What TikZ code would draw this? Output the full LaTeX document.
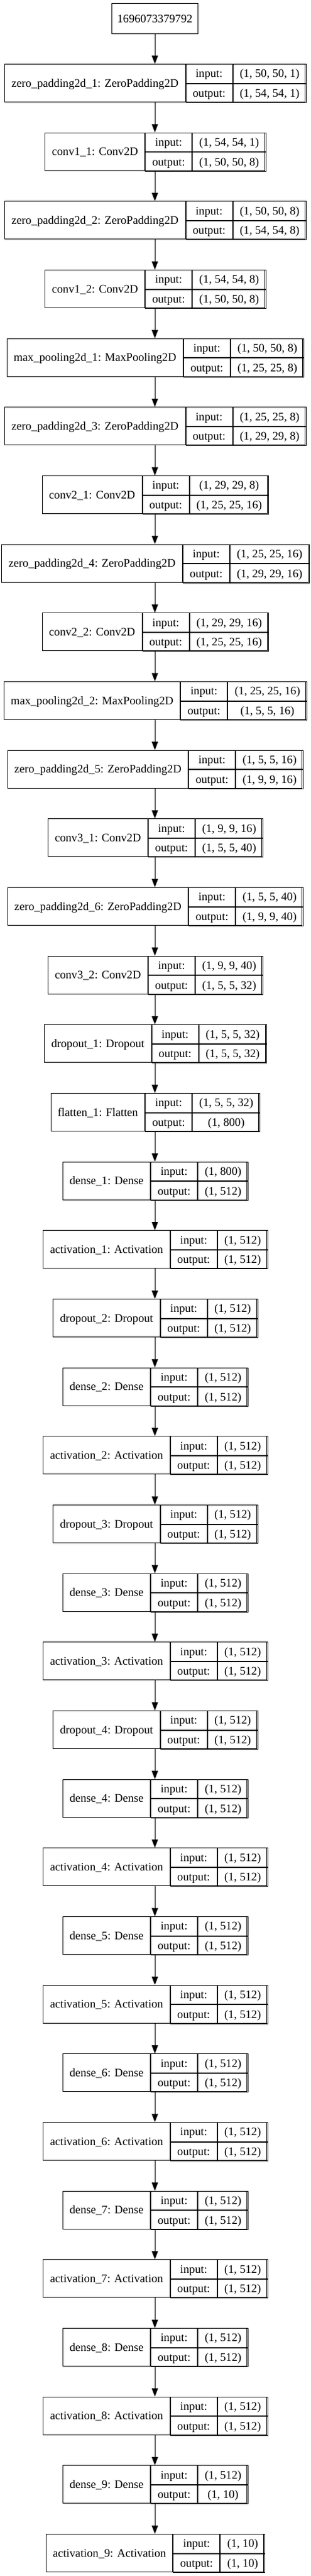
\documentclass[tikz,border=0pt]{standalone}
\usepackage{fontspec}
\setmainfont{Liberation Serif}
\usetikzlibrary{arrows.meta}

\newlength\wname \newlength\wio \newlength\wval \newlength\wtmp \newlength\wtot
\newcommand\fsz{\fontsize{14pt}{16pt}\selectfont}
\newcommand\padw{16.5pt}

\tikzset{
  field/.style={draw=black, line width=0.75pt, inner sep=0pt, text height=9.2pt, text depth=0pt, font=\fsz, align=center},
  edge/.style={draw=black, line width=0.75pt, -{Triangle[length=10pt,width=7.5pt]}}
}

% measurement pass (outside the picture): #1 id, #2 rank, #3 label, #4 input, #5 output, #6 previous id
\newcommand\measureL[6]{%
  \settowidth\wname{\fsz #3}\addtolength\wname{\padw}%
  \settowidth\wio{\fsz output:}\addtolength\wio{\padw}%
  \settowidth\wval{\fsz #4}\settowidth\wtmp{\fsz #5}%
  \ifdim\wtmp>\wval \wval=\wtmp\fi
  \addtolength\wval{\padw}%
  \wtot=\wname \addtolength\wtot{\wio}\addtolength\wtot{\wval}%
  \expandafter\xdef\csname wn@#1\endcsname{\the\wname}%
  \expandafter\xdef\csname wi@#1\endcsname{\the\wio}%
  \expandafter\xdef\csname wv@#1\endcsname{\the\wval}%
  \expandafter\xdef\csname wt@#1\endcsname{\the\wtot}%
}

% drawing pass
\newcommand\mklayer[6]{%
  \edef\curwn{\csname wn@#1\endcsname}%
  \edef\curwi{\csname wi@#1\endcsname}%
  \edef\curwv{\csname wv@#1\endcsname}%
  \edef\curwt{\csname wt@#1\endcsname}%
  \pgfmathsetmacro\ytop{-(103+(#2-1)*110.667)*0.75}%
  \node[field, minimum width=\curwt, minimum height=45.75pt, anchor=north] (#1) at (187.5pt,\ytop pt) {};
  \node[field, minimum width=\curwn, minimum height=45.75pt, anchor=north west] (#1-name) at (#1.north west) {#3};
  \node[field, minimum width=\curwi, minimum height=22.875pt, anchor=north west] (#1-i) at (#1-name.north east) {input:};
  \node[field, minimum width=\curwi, minimum height=22.875pt, anchor=north west] (#1-o) at (#1-i.south west) {output:};
  \node[field, minimum width=\curwv, minimum height=22.875pt, anchor=north west] (#1-iv) at (#1-i.north east) {#4};
  \node[field, minimum width=\curwv, minimum height=22.875pt, anchor=north west] (#1-ov) at (#1-o.north east) {#5};
  \draw[edge] (#6.south) -- (#1.north);
}

\newcommand\layers{%
\L{zp1}{1}{zero\_padding2d\_1: ZeroPadding2D}{(1, 50, 50, 1)}{(1, 54, 54, 1)}{inp}
\L{c11}{2}{conv1\_1: Conv2D}{(1, 54, 54, 1)}{(1, 50, 50, 8)}{zp1}
\L{zp2}{3}{zero\_padding2d\_2: ZeroPadding2D}{(1, 50, 50, 8)}{(1, 54, 54, 8)}{c11}
\L{c12}{4}{conv1\_2: Conv2D}{(1, 54, 54, 8)}{(1, 50, 50, 8)}{zp2}
\L{mp1}{5}{max\_pooling2d\_1: MaxPooling2D}{(1, 50, 50, 8)}{(1, 25, 25, 8)}{c12}
\L{zp3}{6}{zero\_padding2d\_3: ZeroPadding2D}{(1, 25, 25, 8)}{(1, 29, 29, 8)}{mp1}
\L{c21}{7}{conv2\_1: Conv2D}{(1, 29, 29, 8)}{(1, 25, 25, 16)}{zp3}
\L{zp4}{8}{zero\_padding2d\_4: ZeroPadding2D}{(1, 25, 25, 16)}{(1, 29, 29, 16)}{c21}
\L{c22}{9}{conv2\_2: Conv2D}{(1, 29, 29, 16)}{(1, 25, 25, 16)}{zp4}
\L{mp2}{10}{max\_pooling2d\_2: MaxPooling2D}{(1, 25, 25, 16)}{(1, 5, 5, 16)}{c22}
\L{zp5}{11}{zero\_padding2d\_5: ZeroPadding2D}{(1, 5, 5, 16)}{(1, 9, 9, 16)}{mp2}
\L{c31}{12}{conv3\_1: Conv2D}{(1, 9, 9, 16)}{(1, 5, 5, 40)}{zp5}
\L{zp6}{13}{zero\_padding2d\_6: ZeroPadding2D}{(1, 5, 5, 40)}{(1, 9, 9, 40)}{c31}
\L{c32}{14}{conv3\_2: Conv2D}{(1, 9, 9, 40)}{(1, 5, 5, 32)}{zp6}
\L{do1}{15}{dropout\_1: Dropout}{(1, 5, 5, 32)}{(1, 5, 5, 32)}{c32}
\L{fl1}{16}{flatten\_1: Flatten}{(1, 5, 5, 32)}{(1, 800)}{do1}
\L{d1}{17}{dense\_1: Dense}{(1, 800)}{(1, 512)}{fl1}
\L{a1}{18}{activation\_1: Activation}{(1, 512)}{(1, 512)}{d1}
\L{do2}{19}{dropout\_2: Dropout}{(1, 512)}{(1, 512)}{a1}
\L{d2}{20}{dense\_2: Dense}{(1, 512)}{(1, 512)}{do2}
\L{a2}{21}{activation\_2: Activation}{(1, 512)}{(1, 512)}{d2}
\L{do3}{22}{dropout\_3: Dropout}{(1, 512)}{(1, 512)}{a2}
\L{d3}{23}{dense\_3: Dense}{(1, 512)}{(1, 512)}{do3}
\L{a3}{24}{activation\_3: Activation}{(1, 512)}{(1, 512)}{d3}
\L{do4}{25}{dropout\_4: Dropout}{(1, 512)}{(1, 512)}{a3}
\L{d4}{26}{dense\_4: Dense}{(1, 512)}{(1, 512)}{do4}
\L{a4}{27}{activation\_4: Activation}{(1, 512)}{(1, 512)}{d4}
\L{d5}{28}{dense\_5: Dense}{(1, 512)}{(1, 512)}{a4}
\L{a5}{29}{activation\_5: Activation}{(1, 512)}{(1, 512)}{d5}
\L{d6}{30}{dense\_6: Dense}{(1, 512)}{(1, 512)}{a5}
\L{a6}{31}{activation\_6: Activation}{(1, 512)}{(1, 512)}{d6}
\L{d7}{32}{dense\_7: Dense}{(1, 512)}{(1, 512)}{a6}
\L{a7}{33}{activation\_7: Activation}{(1, 512)}{(1, 512)}{d7}
\L{d8}{34}{dense\_8: Dense}{(1, 512)}{(1, 512)}{a7}
\L{a8}{35}{activation\_8: Activation}{(1, 512)}{(1, 512)}{d8}
\L{d9}{36}{dense\_9: Dense}{(1, 512)}{(1, 10)}{a8}
\L{a9}{37}{activation\_9: Activation}{(1, 10)}{(1, 10)}{d9}
}

\begin{document}
\let\L\measureL
\layers
\let\L\mklayer
\begin{tikzpicture}
\useasboundingbox[fill=white] (0pt,0pt) rectangle (375.75pt,-3116.25pt);
\node[field, minimum width=104.25pt, minimum height=36.75pt, anchor=north] (inp) at (187.5pt,-3.75pt) {1696073379792};
\layers
\end{tikzpicture}
\end{document}
